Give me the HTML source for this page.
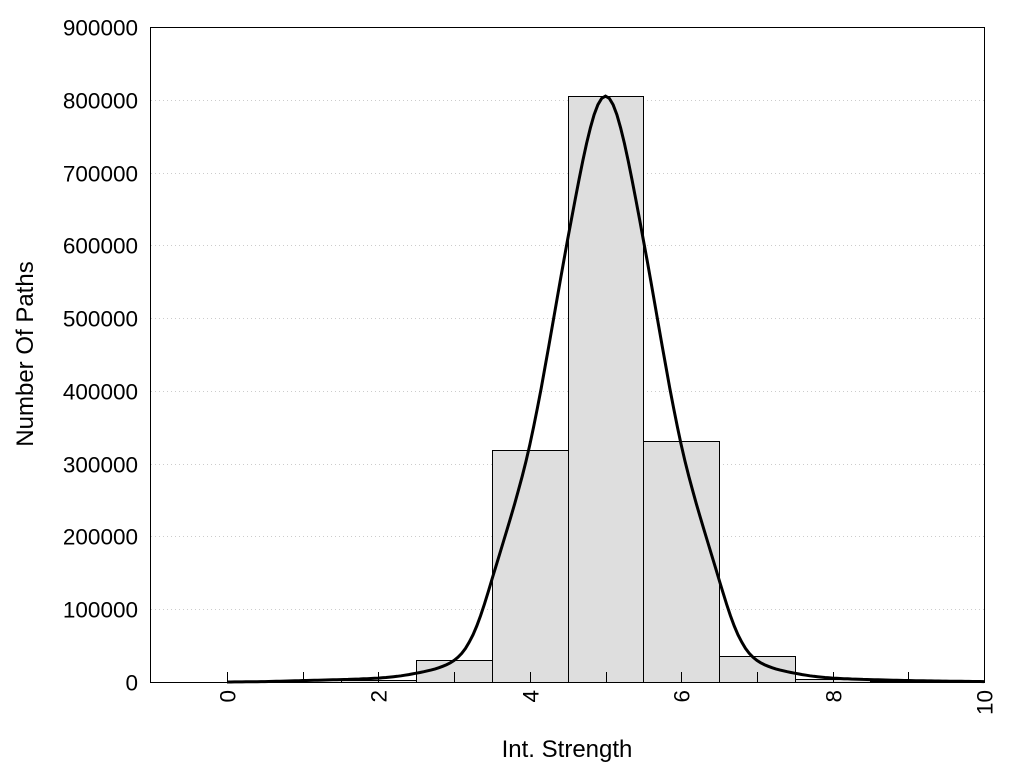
<!DOCTYPE html>
<html><head><meta charset="utf-8"><style>
body{margin:0;background:#fff}
svg{display:block}
text{font-family:"Liberation Sans",Arial,sans-serif;font-size:22.5px;fill:#000}
</style></head><body>
<svg id="s" width="1024" height="768" xmlns="http://www.w3.org/2000/svg">
<g id="grid" stroke="#ccc" stroke-width="1" stroke-dasharray="1,3"></g>
<g id="bars" fill="#dedede" stroke="#000" stroke-width="1"></g>
<rect x="150.5" y="27.5" width="834" height="655" fill="none" stroke="#000" stroke-width="1"/>
<g id="ticks" stroke="#000" stroke-width="1"></g>
<g id="labels"></g>
<path id="curve" fill="none" stroke="#000" stroke-width="3"/>
<text x="567" y="757" text-anchor="middle" style="font-size:24px">Int. Strength</text>
<text transform="translate(33,354) rotate(-90)" text-anchor="middle" style="font-size:24px">Number Of Paths</text>
</svg>
<script>
var NS="http://www.w3.org/2000/svg";
function X(v){return 227+v*75.7;}
function Y(v){return 682-v*655/900000;}
function el(p,t,a,txt){var e=document.createElementNS(NS,t);for(var k in a)e.setAttribute(k,a[k]);if(txt!=null)e.textContent=txt;document.getElementById(p).appendChild(e);}
for(var i=0;i<=9;i++){var y=Math.round(Y(i*100000))+0.5;
 if(i>0&&i<9)el('grid','line',{x1:151,x2:984,y1:y,y2:y});
 el('labels','text',{x:138,y:y+8,'text-anchor':'end'},String(i*100000));}
var bars=[[1,300],[2,3000],[3,30000],[4,319000],[5,805000],[6,331000],[7,36000],[8,4000],[9,800]];
bars.forEach(function(b){var x0=X(b[0]-0.5),y=Y(b[1]);el('bars','rect',{x:Math.round(x0)+0.5,y:Math.round(y)+0.5,width:Math.round(X(b[0]+0.5))-Math.round(x0),height:Math.max(0,682-Math.round(y))});});
for(var i=0;i<=10;i++){var x=Math.round(X(i))+0.5;el('ticks','line',{x1:x,x2:x,y1:682,y2:672});
 if(i%2==0){el('labels','text',{transform:'translate('+(x+8)+',690) rotate(-90)','text-anchor':'end'},String(i));}}
// log-ratio profile at |d| = 0,0.5,...,5.5
var L=[0,-0.281,-0.904,-1.743,-3.30,-4.2,-5.0,-5.5,-6.0,-6.5,-7.2,-8.0,-8.8];
function lg(d){d=Math.abs(d);var t=d/0.5,i=Math.floor(t),u=t-i;
 var p0=i==0?L[1]:L[i-1],p1=L[i],p2=L[i+1],p3=L[i+2]!==undefined?L[i+2]:L[i+1]-0.8;
 return 0.5*((2*p1)+(-p0+p2)*u+(2*p0-5*p1+4*p2-p3)*u*u+(-p0+3*p1-3*p2+p3)*u*u*u);}
var d='';
for(var v=0;v<=10.0001;v+=0.05){var f=805000*Math.exp(lg(v-5));
 if(v<1)f*=v;d+=(d?'L':'M')+X(v).toFixed(1)+','+Y(f).toFixed(1);}
document.getElementById('curve').setAttribute('d',d);
</script>
</body></html>
